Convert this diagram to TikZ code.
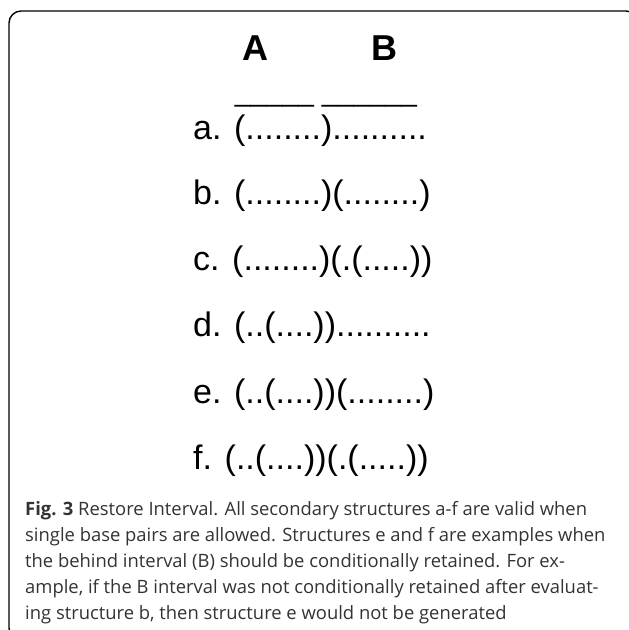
\documentclass[tikz,border=0pt]{standalone}
\usepackage{fontspec}
\setmainfont{Liberation Sans}
\newfontfamily\capfont{Open Sans}
\definecolor{captext}{HTML}{333333}
\begin{document}
\begin{tikzpicture}[x=1pt,y=-1pt,
  rowtext/.style={anchor=base west, inner sep=0pt, font=\fontsize{34}{40}\selectfont},
  headtext/.style={anchor=base, inner sep=0pt, font=\fontsize{36}{40}\selectfont\bfseries},
  captext/.style={anchor=base west, inner sep=0pt, text=captext, font=\capfont\fontsize{18.4}{24}\selectfont}]
\useasboundingbox (0,0) rectangle (629,630);
\clip (0,0) rectangle (629,630);
\draw[line width=1.4pt, rounded corners=12pt] (9,11) rectangle (638,640);
\node[headtext] (hA) at (255,60) {A};
\node[headtext] (hB) at (384,60) {B};
\node[anchor=base, inner sep=0pt, font=\fontsize{28.5}{32}\selectfont] (us) at (326,101) {\_\_\_\_\_ \_\_\_\_\_\_};
\node[rowtext] (ra) at (193,139) {a. (........)..........};
\node[rowtext] (rb) at (193,204) {b. (........)(........)};
\node[rowtext] (rc) at (193,270) {c. (........)(.(.....))};
\node[rowtext] (rd) at (193,336) {d. (..(....))..........};
\node[rowtext] (re) at (193,403) {e. (..(....))(........)};
\node[rowtext] (rf) at (193,469) {f. (..(....))(.(.....))};
\node[captext] (c1) at (25,515) {{\bfseries Fig. 3} Restore Interval. All secondary structures a-f are valid when};
\node[captext] (c2) at (25,541) {single base pairs are allowed. Structures e and f are examples when};
\node[captext] (c3) at (25,567) {the behind interval (B) should be conditionally retained. For ex-};
\node[captext] (c4) at (25,593) {ample, if the B interval was not conditionally retained after evaluat-};
\node[captext] (c5) at (25,619) {ing structure b, then structure e would not be generated};
\end{tikzpicture}
\end{document}
